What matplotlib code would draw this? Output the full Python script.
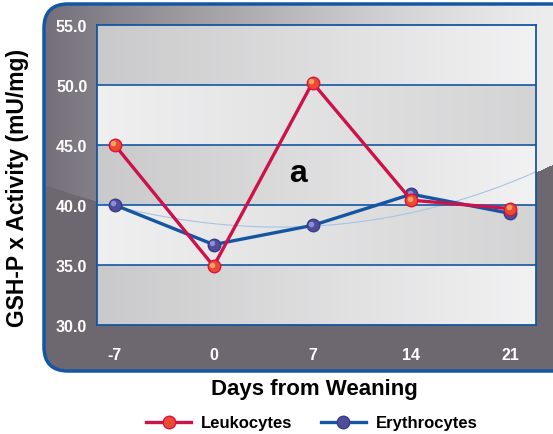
import numpy as np
import matplotlib as mpl
import matplotlib.pyplot as plt
from matplotlib.patches import FancyBboxPatch
from matplotlib.lines import Line2D
from matplotlib.transforms import offset_copy

mpl.rcParams['font.family'] = ['Liberation Sans', 'DejaVu Sans']

days = ['-7', '0', '7', '14', '21']
leukocytes = [45.0, 34.9, 50.2, 40.4, 39.7]
erythrocytes = [40.0, 36.7, 38.3, 40.9, 39.3]
yticks = [30, 35, 40, 45, 50, 55]

RED = '#cc1248'
BLUE = '#1456a2'

fig = plt.figure(figsize=(5.53, 4.35), dpi=100)

# background panel (pixel coordinates)
bg = fig.add_axes([0, 0, 1, 1], zorder=0)
bg.set_xlim(0, 553)
bg.set_ylim(435, 0)
bg.axis('off')

# light sweep curve separating upper and lower parts of the panel
cx = np.array([48, 97, 240, 390, 463, 536, 553])
cy = np.array([187, 202, 227, 218, 200, 173, 165])
coef = np.polyfit(cx, cy, 3)
xs = np.arange(553)
curve = np.polyval(coef, xs)

yy, xx = np.mgrid[0:435, 0:553]
t = xx / 553.0
dark = np.array([0.43, 0.41, 0.44])
lo = np.array([0.40, 0.38, 0.42])
hi = np.array([0.93, 0.93, 0.93])
w = 1 - (1 - t[..., None]) ** 1.3
light = lo[None, None, :] * (1 - w) + hi[None, None, :] * w
img = np.where((yy < curve[None, :])[..., None], light, dark[None, None, :])

panel = FancyBboxPatch((44, 5), 560, 367, boxstyle='round,pad=0,rounding_size=24',
                       facecolor='none', edgecolor=BLUE, lw=2.5, zorder=3)
im = bg.imshow(img, extent=(0, 553, 435, 0), aspect='auto', zorder=1)
bg.add_patch(panel)
im.set_clip_path(panel)

# main plot
ax = fig.add_axes([97 / 553, 109 / 435, 439 / 553, 300 / 435], zorder=1)
ax.set_facecolor('none')
x = np.arange(len(days))
x0, x1 = -0.18, 4.26
ax.set_xlim(x0, x1)
ax.set_ylim(30, 55)

g = np.linspace(0, 1, 200)
bands = []
for i in range(5):
    a, b = (0.79, 0.95) if i % 2 == 0 else (0.94, 0.83)
    v = a + (b - a) * g
    bands.append(np.stack([v, v, v + 0.005], axis=-1))
bands = np.clip(np.array(bands), 0, 1)
ax.imshow(bands, extent=(x0, x1, 30, 55), origin='lower', aspect='auto',
          interpolation='nearest', zorder=0)

ax.plot(xs, curve, color='#a8c4e4', lw=0.8, transform=bg.transData, zorder=1)

for yv in yticks[1:-1]:
    ax.axhline(yv, color=BLUE, lw=1.2, zorder=2)
for s in ax.spines.values():
    s.set_color(BLUE)
    s.set_linewidth(1.3)

hl = offset_copy(ax.transData, fig=fig, x=-1.2, y=1.2, units='points')
ax.plot(x, erythrocytes, color=BLUE, lw=2.4, marker='o', ms=9,
        mfc='#4e4c9c', mec='#3c3a86', mew=1, zorder=3)
ax.plot(x, erythrocytes, ls='none', marker='o', ms=4, mfc='#8e8ed0', mec='none',
        transform=hl, zorder=3)
ax.plot(x, leukocytes, color=RED, lw=2.4, marker='o', ms=9,
        mfc='#e84a34', mec='#d8143c', mew=1, zorder=4)
ax.plot(x, leukocytes, ls='none', marker='o', ms=4, mfc='#f6a060', mec='none',
        transform=hl, zorder=4)

ax.text(1.85, 42.7, 'a', fontsize=23, fontweight='heavy', ha='center', va='center', zorder=5)

ax.set_xticks(x)
ax.set_xticklabels(days)
ax.set_yticks(yticks)
ax.set_yticklabels(['%.1f' % v for v in yticks])
ax.tick_params(length=0, colors='white')
ax.tick_params(axis='x', pad=16)
ax.tick_params(axis='y', pad=7)
for lab in ax.get_xticklabels() + ax.get_yticklabels():
    lab.set_fontweight('bold')
    lab.set_fontsize(11.5)

fig.text(314 / 553, 1 - 390 / 435, 'Days from Weaning', fontsize=16,
         fontweight='bold', ha='center', va='center')
fig.text(18 / 553, 1 - 188 / 435, 'GSH-P x Activity (mU/mg)', fontsize=16.5,
         fontweight='bold', ha='center', va='center', rotation=90)

handles = [
    Line2D([], [], color=RED, lw=2.4, marker='o', ms=9, mfc='#e84a34', mec='#d8143c'),
    Line2D([], [], color=BLUE, lw=2.4, marker='o', ms=9, mfc='#4e4c9c', mec='#3c3a86'),
]
leg = fig.legend(handles, ['Leukocytes', 'Erythrocytes'], loc='center',
                 bbox_to_anchor=(312 / 553, 1 - 424 / 435), ncol=2, frameon=False,
                 handlelength=2.7, columnspacing=1.7, handletextpad=0.6,
                 prop={'weight': 'bold', 'size': 12})

fig.savefig('out.png', dpi=100)
